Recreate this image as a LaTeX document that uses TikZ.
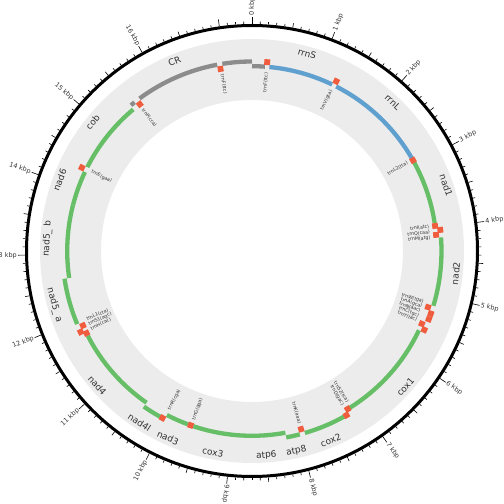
\documentclass[tikz,border=0pt]{standalone}
\usepackage{fontspec}
\setmainfont{DejaVu Sans}
\definecolor{ggreen}{RGB}{102,190,102}
\definecolor{gblue}{RGB}{96,160,207}
\definecolor{ggray}{RGB}{140,140,140}
\definecolor{gred}{RGB}{240,92,62}
\definecolor{gband}{RGB}{236,236,236}
\definecolor{gtext}{RGB}{50,50,50}
\newcommand\RO{189.5}
\newcommand\RI{184.8}
\newcommand\feat[4]{\draw[line width=4.3pt,#4] ({90-(#1)}:#3pt) arc[start angle={90-(#1)}, end angle={90-(#2)}, radius=#3pt];}
\newcommand\trna[2]{\draw[line width=5.8pt,gred] ({90-(#1)+0.88}:#2pt) arc[start angle={90-(#1)+0.88}, end angle={90-(#1)-0.88}, radius=#2pt];}
\newcommand\glab[3]{\pgfmathsetmacro\gr{ifthenelse(and(#2>90,#2<270),180-#2,-#2)}%
  \node[glabel,rotate=\gr] (#1) at ({90-(#2)}:205pt) {#3};}
\newcommand\tlabR[3]{\pgfmathsetmacro\tr{90-#2}%
  \node[tlabel,rotate=\tr,anchor=east] (#1) at ({90-(#2)}:179pt) {#3};}
\newcommand\tlabL[3]{\pgfmathsetmacro\tr{270-#2}%
  \node[tlabel,rotate=\tr,anchor=west] (#1) at ({90-(#2)}:179pt) {#3};}
\tikzset{
  glabel/.style={font=\fontsize{9}{10}\selectfont,text=gtext,inner sep=0pt},
  tlabel/.style={font=\fontsize{4.7}{5}\selectfont,text=gtext,inner sep=0pt},
  klabel/.style={font=\fontsize{6.5}{7}\selectfont,text=gtext,inner sep=0pt},
}
\begin{document}
\begin{tikzpicture}[x=1pt,y=1pt]
\useasboundingbox (0,0) rectangle (504,504);
\begin{scope}[shift={(252,253)}]
% background band
\fill[gband,even odd rule] (0,0) circle[radius=212pt] (0,0) circle[radius=151pt];
% outer axis
\draw[line width=3pt] (0,0) circle[radius=225.5pt];
\foreach \i in {0,...,173}{
  \pgfmathsetmacro\ang{90-\i*2.068966}
  \pgfmathsetmacro\len{ifthenelse(mod(\i,10)==0,7,ifthenelse(mod(\i,5)==0,4.5,2.5))}
  \draw[line width=0.6pt] (\ang:227pt) -- (\ang:{227pt+\len pt});
}
\foreach \k in {0,...,16}{
  \pgfmathsetmacro\th{\k*20.68966}
  \pgfmathsetmacro\ang{90-\th}
  \ifdim \th pt<190pt
    \pgfmathsetmacro\rot{90-\th}
    \node[klabel,rotate=\rot,anchor=west] (k\k) at (\ang:235pt) {\k\ kbp};
  \else
    \pgfmathsetmacro\rot{270-\th}
    \node[klabel,rotate=\rot,anchor=east] (k\k) at (\ang:235pt) {\k\ kbp};
  \fi
}
% features
\feat{320.3}{321.7}{\RO}{ggray}
\feat{323.6}{349.4}{\RO}{ggray}
\feat{351.0}{360.0}{\RO}{ggray}
\feat{0.0}{4.0}{\RI}{ggray}
\feat{5.4}{25.7}{\RI}{gblue}
\feat{27.1}{59.9}{\RI}{gblue}
\feat{61.4}{81.3}{\RI}{ggreen}
\feat{85.9}{106.8}{\RO}{ggreen}
\feat{115.4}{148.0}{\RI}{ggreen}
\feat{150.9}{163.8}{\RO}{ggreen}
\feat{165.4}{169.6}{\RO}{ggreen}
\feat{169.6}{182.8}{\RI}{ggreen}
\feat{182.8}{198.5}{\RI}{ggreen}
\feat{200.3}{207.4}{\RI}{ggreen}
\feat{209.0}{214.8}{\RO}{ggreen}
\feat{214.8}{242.7}{\RI}{ggreen}
\feat{247.3}{261.6}{\RO}{ggreen}
\feat{261.6}{284.3}{\RI}{ggreen}
\feat{284.3}{295.3}{\RI}{ggreen}
\feat{297.0}{320.0}{\RI}{ggreen}
% tRNAs
\trna{350.2}{\RI}
\trna{4.6}{\RO}
\trna{26.4}{\RO}
\trna{60.6}{\RI}
\trna{82.2}{\RI}
\trna{83.6}{\RO}
\trna{85.0}{\RI}
\trna{107.7}{\RI}
\trna{109.3}{\RO}
\trna{111.1}{\RO}
\trna{113.2}{\RI}
\trna{114.6}{\RO}
\trna{148.8}{\RI}
\trna{150.1}{\RO}
\trna{164.6}{\RI}
\trna{199.4}{\RI}
\trna{208.2}{\RO}
\trna{243.6}{\RI}
\trna{244.7}{\RO}
\trna{246.2}{\RI}
\trna{296.1}{\RO}
\trna{322.6}{\RI}
% gene labels
\glab{lCR}{337.8}{CR}
\glab{lrrnS}{15.6}{rrnS}
\glab{lrrnL}{43.4}{rrnL}
\glab{lnadA}{71.3}{nad1}
\glab{lnadB}{96.3}{nad2}
\glab{lcoxA}{131.5}{cox1}
\glab{lcoxB}{157.4}{cox2}
\glab{latpE}{167.5}{atp8}
\glab{latpF}{176.0}{atp6}
\glab{lcoxC}{191.0}{cox3}
\glab{lnadC}{204.2}{nad3}
\glab{lnadL}{213.3}{nad4l}
\glab{lnadD}{229.0}{nad4}
\glab{lnadEa}{254.6}{nad5\_ a}
\glab{lnadEb}{273.4}{nad5\_ b}
\glab{lnadF}{290.3}{nad6}
\glab{lcob}{309.0}{cob}
% tRNA labels
\tlabL{tT}{350.4}{trnF(ttc)}
\tlabR{tF}{4.6}{trnF(ttc)}
\tlabR{tV}{26.3}{trnV(gta)}
\tlabR{tLb}{60.4}{trnL2(tta)}
\tlabR{tI}{82.1}{trnI(atc)}
\tlabR{tQ}{84.0}{trnQ(caa)}
\tlabR{tM}{85.9}{trnM(atg)}
\tlabR{tW}{106.4}{trnW(tga)}
\tlabR{tA}{108.0}{trnA(gca)}
\tlabR{tN}{109.6}{trnN(aac)}
\tlabR{tC}{111.2}{trnC(tgc)}
\tlabR{tY}{112.8}{trnY(tac)}
\tlabR{tSb}{147.7}{trnS2(tca)}
\tlabR{tD}{149.5}{trnD(gac)}
\tlabR{tK}{164.6}{trnK(aaa)}
\tlabL{tG}{199.0}{trnG(gga)}
\tlabL{tR}{207.6}{trnR(cga)}
\tlabL{tH}{244.2}{trnH(cac)}
\tlabL{tSa}{245.9}{trnS1(agc)}
\tlabL{tLa}{247.6}{trnL1(cta)}
\tlabL{tE}{296.3}{trnE(gaa)}
\tlabL{tP}{322.3}{trnP(cca)}
\end{scope}
\end{tikzpicture}
\end{document}
